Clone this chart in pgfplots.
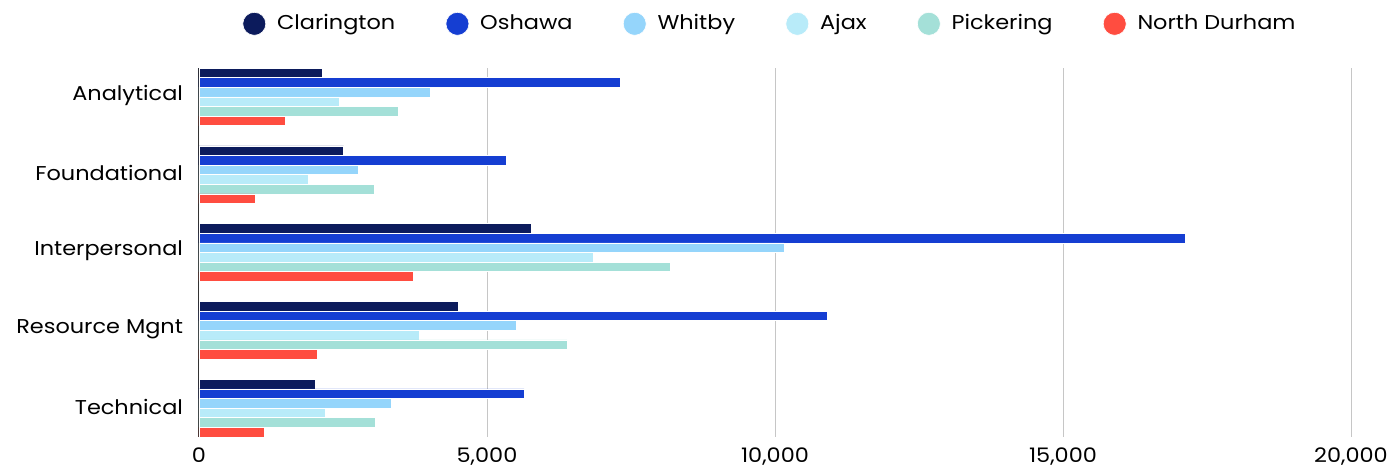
\documentclass[border=0pt]{standalone}
\usepackage{fontspec}
\setmainfont{Poppins}[FakeStretch=1.12]
\usepackage{pgfplots}
\usepackage{pgfplotstable}
\pgfplotsset{compat=1.18}

\definecolor{cClar}{HTML}{0C1B5C}
\definecolor{cOsh}{HTML}{153ED2}
\definecolor{cWhit}{HTML}{95D5FB}
\definecolor{cAjax}{HTML}{B8EBF9}
\definecolor{cPick}{HTML}{A4E0D8}
\definecolor{cND}{HTML}{FF4D40}
\definecolor{gridgray}{HTML}{C6C6C6}

% skill counts by municipality (category index 0..4)
\pgfplotstableread{
cat clar osh whit ajax pick nd
0 2135 7320 4020 2440 3460 1490
1 2510 5330 2770 1890 3040 970
2 5770 17120 10160 6850 8175 3715
3 4505 10910 5500 3830 6390 2050
4 2020 5645 3340 2190 3055 1135
}\skills

\begin{document}
\begin{tikzpicture}[font=\fontsize{10}{12}\selectfont]
\useasboundingbox (-99.5pt,-14.5pt) rectangle (595.5pt,218.5pt);
\begin{axis}[
  at={(0,0)}, anchor=south west,
  scale only axis,
  width=576pt, height=184.5pt,
  xbar,
  bar width=0.1237,
  y dir=reverse,
  xmin=0, xmax=20000,
  ymin=-0.371, ymax=4.371,
  xtick={0,5000,10000,15000,20000},
  ytick={0,1,2,3,4},
  yticklabels={Analytical,Foundational,Interpersonal,Resource Mgnt,Technical},
  scaled x ticks=false,
  /pgf/number format/.cd, 1000 sep={,}, fixed, assume math mode=true,
  /pgfplots/.cd,
  xmajorgrids,
  grid style={gridgray, line width=0.5pt},
  axis y line*=left,
  axis x line*=bottom,
  x axis line style={draw=none},
  y axis line style={black!80, line width=0.5pt},
  major tick length=0pt,
  xticklabel style={anchor=base, yshift=-12.5pt, inner sep=0pt},
  yticklabel style={xshift=-4.5pt, yshift=0.7pt},
  legend columns=6,
  legend style={
    at={(axis description cs:0.5,1)}, anchor=south,
    xshift=-3pt, yshift=16pt,
    draw=none, fill=none, inner sep=0pt,
    nodes={inner sep=0pt, anchor=west},
    /tikz/every odd column/.append style={column sep=5.5pt},
    /tikz/every even column/.append style={column sep=25.2pt},
  },
  legend image code/.code={\fill (5.75pt,0pt) circle (5.75pt);},
  every axis plot/.append style={draw=white, line width=0.3pt},
]
\addplot[fill=cClar, bar shift=-0.3093] table[x=clar, y=cat] {\skills};
\addplot[fill=cOsh,  bar shift=-0.1856] table[x=osh,  y=cat] {\skills};
\addplot[fill=cWhit, bar shift=-0.0619] table[x=whit, y=cat] {\skills};
\addplot[fill=cAjax, bar shift=0.0619]  table[x=ajax, y=cat] {\skills};
\addplot[fill=cPick, bar shift=0.1856]  table[x=pick, y=cat] {\skills};
\addplot[fill=cND,   bar shift=0.3093]  table[x=nd,   y=cat] {\skills};
\legend{Clarington,Oshawa,Whitby,Ajax,Pickering,North Durham}
\end{axis}
\end{tikzpicture}
\end{document}
